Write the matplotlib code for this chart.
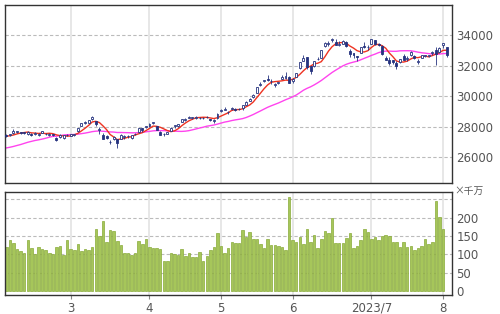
import numpy as np
import pandas as pd
import matplotlib
matplotlib.use("Agg")
import matplotlib.pyplot as plt

# prior closes (late Dec / Jan) used only to seed the moving averages
prior_close = [26405, 26447, 26340, 26093, 26095,
               25717, 25820, 25974, 26175, 26446, 26449, 26120, 25822, 26138, 26791,
               26405, 26553, 26906, 27299, 27395, 27362, 27383, 27433, 27327, 27346]

# daily OHLC, Feb 2 .. Aug 2 2023
opens = [27470, 27430, 27560, 27680, 27660, 27630, 27500, 27550, 27500, 27450, 27610, 27520, 27480, 27500, 27280, 27320, 27250, 27440,
         27420, 27450, 27700, 28030, 28240, 28230, 28470, 28390, 27800, 27460, 27410, 26980, 27220, 27180, 27200, 27300, 27390, 27240, 27520, 27630, 27900, 27980,
         28050, 28220, 28030, 27640, 27540, 27550, 27730, 28020, 28060, 28310, 28420, 28580, 28580, 28580, 28590, 28550, 28640, 28480, 28340, 28590,
         29000, 29110, 28950, 29130, 29180, 29170, 29220, 29450, 29690, 29920, 30220, 30700, 30980, 31090, 31010, 30710, 30860, 31110, 31200, 31230,
         30960, 31280, 31850, 32300, 32530, 31950, 31960, 32430, 32520, 33300, 33430, 33640, 33550, 33320, 33440, 33560, 32960, 32810, 32600, 32840, 33300, 33190,
         33400, 33650, 33400, 33260, 32500, 32370, 32380, 32140, 32230, 32620, 32410, 32660, 32640, 32250, 32520, 32650, 32650, 32820, 33030, 32900,
         33370, 33200]
highs = [27520, 27540, 27820, 27740, 27680, 27660, 27690, 27580, 27640, 27560, 27710, 27560, 27560, 27520, 27300, 27510, 27440, 27490,
         27540, 27520, 27940, 28260, 28340, 28460, 28730, 28400, 27990, 27560, 27450, 27100, 27400, 27200, 27500, 27450, 27440, 27480, 27610, 27890, 27920, 28060,
         28230, 28330, 28070, 27700, 27590, 27670, 27950, 28090, 28170, 28520, 28540, 28690, 28650, 28700, 28630, 28640, 28680, 28520, 28490, 28880,
         29150, 29280, 29020, 29280, 29200, 29200, 29400, 29650, 29900, 30150, 30600, 30920, 31080, 31350, 31120, 30880, 30930, 31350, 31560, 31330,
         31190, 31530, 32230, 32710, 32580, 32000, 32300, 32530, 33030, 33560, 33580, 33770, 33720, 33620, 33650, 33600, 33070, 32820, 32650, 33200, 33530, 33330,
         33760, 33680, 33480, 33320, 32630, 32550, 32380, 32270, 32420, 32780, 32610, 32960, 32700, 32430, 32720, 32720, 32710, 32940, 33190, 33220,
         33490, 33210]
lows = [27330, 27380, 27540, 27610, 27520, 27500, 27460, 27400, 27460, 27400, 27580, 27450, 27410, 27380, 27060, 27290, 27190, 27360,
        27390, 27400, 27680, 28020, 28190, 28220, 28430, 28050, 27550, 27180, 27170, 26880, 27130, 26630, 27160, 27220, 27240, 27180, 27460, 27580, 27680, 27890,
        28000, 28200, 27790, 27430, 27410, 27510, 27710, 27930, 28000, 28300, 28400, 28550, 28510, 28530, 28500, 28500, 28560, 28370, 28240, 28480,
        28980, 29090, 28850, 29090, 29030, 29070, 29100, 29430, 29660, 29880, 30190, 30670, 30900, 31000, 30790, 30600, 30760, 31110, 31150, 30850,
        30860, 31250, 31800, 32270, 31800, 31420, 31890, 32380, 32500, 33230, 33290, 33560, 33370, 33250, 33380, 33230, 32580, 32520, 32310, 32820, 33170, 33020,
        33380, 33370, 33250, 32700, 32330, 32040, 32110, 31790, 32150, 32390, 32310, 32630, 32400, 32080, 32480, 32570, 32560, 32720, 32040, 32830,
        33150, 32550]
closes = [27402, 27509, 27693, 27685, 27606, 27584, 27670, 27427, 27602, 27501, 27696, 27513, 27531, 27473, 27104, 27453, 27423, 27445,
          27516, 27498, 27927, 28237, 28309, 28444, 28623, 28143, 27832, 27222, 27229, 27010, 27333, 26945, 27466, 27419, 27385, 27476, 27518, 27883, 27782, 28041,
          28188, 28287, 27813, 27472, 27518, 27633, 27923, 28082, 28156, 28493, 28514, 28658, 28606, 28657, 28564, 28593, 28620, 28416, 28457, 28856,
          29123, 29157, 28949, 29242, 29122, 29126, 29388, 29626, 29842, 30093, 30573, 30808, 31086, 31086, 30957, 30801, 30916, 31233, 31328, 30887,
          31148, 31524, 32217, 32506, 31913, 31641, 32265, 32434, 33018, 33502, 33485, 33706, 33370, 33388, 33575, 33265, 32781, 32698, 32538, 33193, 33234, 33189,
          33753, 33422, 33338, 32773, 32388, 32189, 32203, 31943, 32419, 32391, 32493, 32896, 32490, 32304, 32700, 32682, 32668, 32891, 32759, 33172,
          33476, 32707]

# volume in units of 10 million shares (last day not shown)
volume = [119, 139, 132, 114, 110, 105, 139, 116, 102, 119, 114, 112, 103, 102, 121, 123, 98, 139,
          114, 112, 127, 109, 114, 112, 119, 170, 150, 191, 134, 166, 164, 137, 125, 105, 105, 97, 105, 137, 128, 143,
          119, 116, 116, 115, 83, 83, 105, 100, 98, 114, 95, 103, 94, 92, 106, 83, 96, 111, 119, 159,
          124, 105, 118, 135, 132, 132, 166, 146, 162, 142, 143, 128, 116, 142, 125, 125, 123, 121, 112, 257,
          139, 135, 148, 127, 168, 135, 153, 116, 141, 165, 157, 200, 132, 132, 132, 144, 159, 118, 123, 139, 168, 161,
          142, 146, 139, 150, 153, 151, 135, 134, 119, 134, 119, 123, 112, 117, 123, 143, 128, 135, 245, 201,
          168, np.nan]

month_idx = [18, 40, 60, 80, 102, 122]
month_lbl = ["3", "4", "5", "6", "2023/7", "8"]

price_ticks = [26000, 28000, 30000, 32000, 34000]
vol_ticks = [0, 50, 100, 150, 200]

n = len(closes)
x = np.arange(n)
allc = pd.Series(prior_close + closes)
ma5 = allc.rolling(5).mean().values[len(prior_close):]
ma25 = allc.rolling(25).mean().values[len(prior_close):]

navy = "#26337f"
txt = "#555555"

fig = plt.figure(figsize=(5, 3.14), dpi=100)
ax = fig.add_axes([0.0094, 0.418, 0.8952, 0.567])
axv = fig.add_axes([0.0094, 0.0605, 0.8952, 0.329])

for a in (ax, axv):
    a.set_xlim(-0.45, 124.6)
    for s in a.spines.values():
        s.set_color("#333333")
        s.set_linewidth(1.0)
    for m in month_idx:
        a.axvline(m, color="#e3e3e3", lw=1.2, zorder=0)
    a.yaxis.tick_right()
    a.tick_params(axis="y", length=0, pad=3, labelsize=8.5, labelcolor=txt)
    a.set_xticks(month_idx)

ax.set_ylim(24330, 35980)
ax.set_yticks(price_ticks)
ax.set_yticklabels([str(v) for v in price_ticks])
for v in price_ticks:
    ax.axhline(v, color="#bbbbbb", lw=0.8, ls=(0, (3, 2)), zorder=0)
ax.tick_params(axis="x", length=0, labelbottom=False)

ax.plot(x, ma25, color="#ff44ee", lw=1.0, zorder=2)
ax.plot(x, ma5, color="#ee3322", lw=1.0, zorder=2)

w = 0.55
for i in range(n):
    o, h, l, c = opens[i], highs[i], lows[i], closes[i]
    ax.vlines(i, l, h, color=navy, lw=0.6, zorder=3)
    lo, hi = min(o, c), max(o, c)
    face = "white" if c >= o else navy
    ax.bar(i, max(hi - lo, 15), bottom=lo, width=w, color=face,
           edgecolor=navy, linewidth=0.6, zorder=4)

axv.set_ylim(-11, 271)
axv.set_yticks(vol_ticks)
axv.set_yticklabels([str(v) for v in vol_ticks])
for v in vol_ticks[1:] + [250]:
    axv.axhline(v, color="#bbbbbb", lw=0.8, ls=(0, (3, 2)), zorder=0)
axv.bar(x, volume, width=0.7, color="#a6c65a", edgecolor="#88aa38",
        linewidth=0.5, zorder=2)
axv.set_xticklabels(month_lbl)
axv.tick_params(axis="x", length=3, color="#888888", pad=2, labelsize=8.5,
                labelcolor=txt)

fig.text(0.908, 0.393, "×千万", fontsize=7, color=txt,
         family=["Noto Sans CJK JP", "DejaVu Sans"], va="center", ha="left")

fig.savefig("out.png", dpi=100)
